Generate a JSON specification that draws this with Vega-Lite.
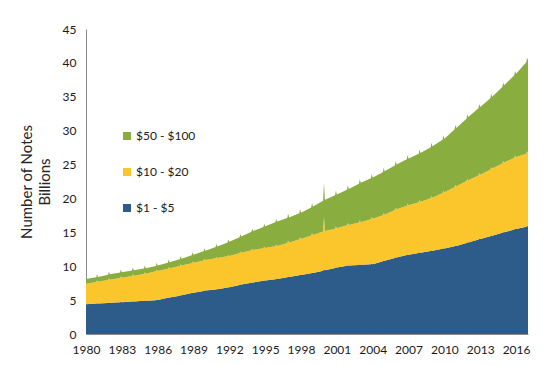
{
  "$schema": "https://vega.github.io/schema/vega-lite/v6.json",
  "width": 442,
  "height": 305,
  "autosize": "none",
  "padding": {"left": 86, "top": 29, "right": 22, "bottom": 31},
  "background": "white",
  "config": {"view": {"stroke": null}, "font": "Lato"},
  "data": {"values": [
    {"t":1980,"a":4.4,"b":3.0,"c":0.7},{"t":1980.85,"a":4.49,"b":3.17,"c":0.7},{"t":1980.92,"a":4.54,"b":3.37,"c":0.9},
    {"t":1981,"a":4.5,"b":3.2,"c":0.7},{"t":1981.85,"a":4.59,"b":3.37,"c":0.79},{"t":1981.92,"a":4.64,"b":3.57,"c":0.99},
    {"t":1982,"a":4.6,"b":3.4,"c":0.8},{"t":1982.85,"a":4.69,"b":3.57,"c":0.8},{"t":1982.92,"a":4.74,"b":3.77,"c":1.0},
    {"t":1983,"a":4.7,"b":3.6,"c":0.8},{"t":1983.85,"a":4.79,"b":3.77,"c":0.8},{"t":1983.92,"a":4.84,"b":3.97,"c":1.0},
    {"t":1984,"a":4.8,"b":3.8,"c":0.8},{"t":1984.85,"a":4.89,"b":3.97,"c":0.8},{"t":1984.92,"a":4.94,"b":4.17,"c":1.0},
    {"t":1985,"a":4.9,"b":4.0,"c":0.8},{"t":1985.85,"a":4.99,"b":4.26,"c":0.8},{"t":1985.92,"a":5.04,"b":4.46,"c":1.0},
    {"t":1986,"a":5.0,"b":4.3,"c":0.8},{"t":1986.85,"a":5.34,"b":4.3,"c":0.89},{"t":1986.92,"a":5.39,"b":4.5,"c":1.09},
    {"t":1987,"a":5.4,"b":4.3,"c":0.9},{"t":1987.85,"a":5.66,"b":4.39,"c":0.99},{"t":1987.92,"a":5.71,"b":4.59,"c":1.19},
    {"t":1988,"a":5.7,"b":4.4,"c":1.0},{"t":1988.85,"a":6.04,"b":4.4,"c":1.17},{"t":1988.92,"a":6.09,"b":4.6,"c":1.37},
    {"t":1989,"a":6.1,"b":4.4,"c":1.2},{"t":1989.85,"a":6.36,"b":4.49,"c":1.37},{"t":1989.92,"a":6.41,"b":4.69,"c":1.57},
    {"t":1990,"a":6.4,"b":4.5,"c":1.4},{"t":1990.85,"a":6.57,"b":4.59,"c":1.66},{"t":1990.92,"a":6.62,"b":4.79,"c":1.86},
    {"t":1991,"a":6.6,"b":4.6,"c":1.7},{"t":1991.85,"a":6.86,"b":4.6,"c":2.04},{"t":1991.92,"a":6.91,"b":4.8,"c":2.24},
    {"t":1992,"a":6.9,"b":4.6,"c":2.1},{"t":1992.85,"a":7.24,"b":4.69,"c":2.36},{"t":1992.92,"a":7.29,"b":4.89,"c":2.56},
    {"t":1993,"a":7.3,"b":4.7,"c":2.4},{"t":1993.85,"a":7.56,"b":4.79,"c":2.74},{"t":1993.92,"a":7.61,"b":4.99,"c":2.94},
    {"t":1994,"a":7.6,"b":4.8,"c":2.8},{"t":1994.85,"a":7.86,"b":4.8,"c":3.14},{"t":1994.92,"a":7.91,"b":5.0,"c":3.34},
    {"t":1995,"a":7.9,"b":4.8,"c":3.2},{"t":1995.85,"a":8.07,"b":4.89,"c":3.54},{"t":1995.92,"a":8.12,"b":5.09,"c":3.74},
    {"t":1996,"a":8.1,"b":4.9,"c":3.6},{"t":1996.85,"a":8.36,"b":5.07,"c":3.69},{"t":1996.92,"a":8.46,"b":5.32,"c":3.99},
    {"t":1997,"a":8.4,"b":5.1,"c":3.7},{"t":1997.85,"a":8.66,"b":5.27,"c":3.87},{"t":1997.92,"a":8.76,"b":5.52,"c":4.17},
    {"t":1998,"a":8.7,"b":5.3,"c":3.9},{"t":1998.85,"a":8.96,"b":5.56,"c":4.16},{"t":1998.92,"a":9.06,"b":5.81,"c":4.46},
    {"t":1999,"a":9.0,"b":5.6,"c":4.2},{"t":1999.85,"a":9.34,"b":5.77,"c":4.54},{"t":1999.92,"a":9.6,"b":7.7,"c":5.1},
    {"t":2000,"a":9.4,"b":5.8,"c":4.6},{"t":2000.85,"a":9.74,"b":5.8,"c":4.94},{"t":2000.92,"a":9.84,"b":6.05,"c":5.24},
    {"t":2001,"a":9.8,"b":5.8,"c":5.0},{"t":2001.85,"a":10.06,"b":5.97,"c":5.26},{"t":2001.92,"a":10.16,"b":6.22,"c":5.56},
    {"t":2002,"a":10.1,"b":6.0,"c":5.3},{"t":2002.85,"a":10.19,"b":6.26,"c":5.73},{"t":2002.92,"a":10.29,"b":6.51,"c":6.03},
    {"t":2003,"a":10.2,"b":6.3,"c":5.8},{"t":2003.85,"a":10.29,"b":6.64,"c":6.06},{"t":2003.92,"a":10.39,"b":6.89,"c":6.36},
    {"t":2004,"a":10.3,"b":6.7,"c":6.1},{"t":2004.85,"a":10.73,"b":6.79,"c":6.36},{"t":2004.92,"a":10.83,"b":7.04,"c":6.66},
    {"t":2005,"a":10.8,"b":6.8,"c":6.4},{"t":2005.85,"a":11.23,"b":7.06,"c":6.57},{"t":2005.92,"a":11.33,"b":7.31,"c":6.87},
    {"t":2006,"a":11.3,"b":7.1,"c":6.6},{"t":2006.85,"a":11.64,"b":7.27,"c":6.86},{"t":2006.92,"a":11.74,"b":7.52,"c":7.16},
    {"t":2007,"a":11.7,"b":7.3,"c":6.9},{"t":2007.85,"a":11.96,"b":7.47,"c":7.16},{"t":2007.92,"a":12.06,"b":7.72,"c":7.46},
    {"t":2008,"a":12.0,"b":7.5,"c":7.2},{"t":2008.85,"a":12.26,"b":7.76,"c":7.54},{"t":2008.92,"a":12.36,"b":8.01,"c":7.84},
    {"t":2009,"a":12.3,"b":7.8,"c":7.6},{"t":2009.85,"a":12.56,"b":8.23,"c":7.86},{"t":2009.92,"a":12.66,"b":8.48,"c":8.16},
    {"t":2010,"a":12.6,"b":8.3,"c":7.9},{"t":2010.85,"a":12.94,"b":8.73,"c":8.5},{"t":2010.92,"a":13.04,"b":8.98,"c":8.8},
    {"t":2011,"a":13.0,"b":8.8,"c":8.6},{"t":2011.85,"a":13.43,"b":9.14,"c":9.2},{"t":2011.92,"a":13.53,"b":9.39,"c":9.5},
    {"t":2012,"a":13.5,"b":9.2,"c":9.3},{"t":2012.85,"a":13.93,"b":9.46,"c":9.9},{"t":2012.92,"a":14.03,"b":9.71,"c":10.2},
    {"t":2013,"a":14.0,"b":9.5,"c":10.0},{"t":2013.85,"a":14.43,"b":9.84,"c":10.51},{"t":2013.92,"a":14.53,"b":10.09,"c":10.81},
    {"t":2014,"a":14.5,"b":9.9,"c":10.6},{"t":2014.85,"a":14.93,"b":10.24,"c":11.28},{"t":2014.92,"a":15.03,"b":10.49,"c":11.58},
    {"t":2015,"a":15.0,"b":10.3,"c":11.4},{"t":2015.85,"a":15.43,"b":10.56,"c":12.17},{"t":2015.92,"a":15.53,"b":10.81,"c":12.47},
    {"t":2016,"a":15.5,"b":10.6,"c":12.3},{"t":2016.85,"a":15.84,"b":10.77,"c":13.49},{"t":2016.92,"a":15.94,"b":11.02,"c":13.79},
    {"t":2017,"a":15.9,"b":10.8,"c":13.7}
  ]},
  "transform": [{"fold": ["a", "b", "c"], "as": ["series", "value"]}],
  "mark": {"type": "area", "interpolate": "linear"},
  "encoding": {
    "x": {
      "field": "t", "type": "quantitative",
      "scale": {"domain": [1980, 2017], "nice": false, "zero": false},
      "axis": {
        "values": [1980, 1983, 1986, 1989, 1992, 1995, 1998, 2001, 2004, 2007, 2010, 2013, 2016],
        "format": "d", "title": null, "grid": false, "ticks": false,
        "domainColor": "#8c8c8c", "labelColor": "#1a1a1a", "labelFontSize": 12,
        "labelPadding": 10, "labelFlush": false
      }
    },
    "y": {
      "field": "value", "type": "quantitative", "stack": "zero",
      "scale": {"domain": [0, 45], "nice": false},
      "axis": {
        "values": [0, 5, 10, 15, 20, 25, 30, 35, 40, 45],
        "title": ["Number of Notes", "Billions"], "grid": false, "ticks": false,
        "domainColor": "#8c8c8c", "labelColor": "#1a1a1a", "labelFontSize": 12,
        "labelPadding": 10, "titleFontSize": 15, "titleFontWeight": "normal",
        "titleColor": "#262626", "titlePadding": 10, "titleLineHeight": 18
      }
    },
    "color": {
      "field": "series", "type": "nominal",
      "scale": {"domain": ["c", "b", "a"], "range": ["#8aad40", "#fbc52c", "#2d5b8a"]},
      "legend": {
        "orient": "none", "legendX": 35, "legendY": 101, "title": null,
        "symbolType": "square", "symbolSize": 64, "symbolStrokeWidth": 0,
        "symbolOpacity": 1,
        "labelFontSize": 12, "labelColor": "#1a1a1a", "labelOffset": 3,
        "rowPadding": 24, "padding": 0,
        "labelExpr": "{'c': '$50 - $100', 'b': '$10 - $20', 'a': '$1 - $5'}[datum.label]"
      }
    },
    "order": {"field": "series", "sort": "ascending"},
    "opacity": {"value": 1}
  }
}
